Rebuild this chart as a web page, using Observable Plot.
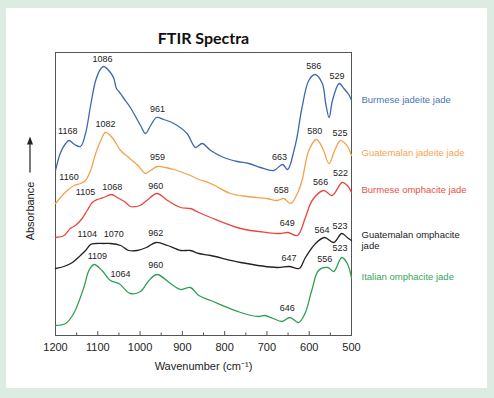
<!DOCTYPE html>
<html><head><meta charset="utf-8">
<script src="https://cdn.jsdelivr.net/npm/d3@7"></script>
<script src="https://cdn.jsdelivr.net/npm/@observablehq/plot@0.6"></script>
<style>
html,body{margin:0;padding:0;background:#dcece2;}
#wrap{position:relative;width:494px;height:398px;overflow:hidden;}
#panel{position:absolute;left:6px;top:8px;width:481px;height:380px;background:#fff;}
#chart{position:absolute;left:0;top:0;}
</style></head><body>
<div id="wrap"><div id="panel"></div><div id="chart"></div></div>
<script>
// ---- data (wavenumber in cm-1, absorbance in arbitrary stacked units) ----
const seriesNames = ["Burmese jadeite jade", "Guatemalan jadeite jade", "Burmese omphacite jade", "Guatemalan omphacite\njade", "Italian omphacite jade"];
const seriesColors = ["#3d68b0", "#f7a04a", "#e8483e", "#222222", "#2f9e55"];
const legendTextColors = ["#4a74bb", "#f5a352", "#ea5048", "#222222", "#37a65f"];
const legendAbs = [235.5, 183, 145.5, 95.5, 59];

const burmeseJadeiteWn  = [1200,1188,1176,1168,1155,1141,1129,1117,1105,1094,1086,1070,1062,1056,1050,1040,1023,999,987,975,961,944,920,889,869,853,833,802,770,743,715,684,663,651,636,629,617,601,586,569,561,553,545,529,518,510,505,500];
const burmeseJadeiteAbs = [165,183,192,195,191,189,202,230,255,266,269,263,257,247,244,238,228,210,202,210,218,216,212,202,188,192,185,178,174,172,168,165,171,166,185,198,228,255,261,252,232,218,235,252,247,243,240,235];

const guatJadeiteWn  = [1200,1188,1172,1156,1141,1129,1117,1105,1093,1082,1066,1046,1027,1005,987,975,959,940,920,881,861,833,786,747,700,676,660,644,628,617,601,583,569,553,540,526,515,508,500];
const guatJadeiteAbs = [132,138,145,150,152,155,165,182,195,203,198,185,178,170,162,165,169,168,166,160,156,152,142,139,137,135,137,132,142,155,185,196,188,172,185,195,192,188,180];

const burmeseOmphWn  = [1200,1180,1165,1153,1137,1125,1113,1101,1086,1068,1054,1034,1023,1000,984,960,935,904,881,861,833,762,700,668,650,628,609,593,566,546,522,510,500];
const burmeseOmphAbs = [98,100,107,110,117,125,133,136,138,141,138,133,129,130,135,142,135,128,127,123,118,107,103,102,103,100,118,135,145,140,153,150,143];

const guatOmphWn  = [1200,1180,1160,1141,1129,1117,1105,1086,1070,1046,1027,1007,985,962,935,904,881,861,833,762,676,647,624,609,585,564,542,523,510,500];
const guatOmphAbs = [67,69,73,80,85,91,92,92,92,90,85,85,88,93,90,85,85,82,80,73,68,69,67,78,92,98,93,102,98,95];

const italianOmphWn  = [1200,1176,1157,1133,1121,1109,1090,1070,1050,1023,999,979,960,928,904,881,861,833,762,720,705,685,664,646,625,610,594,578,556,542,523,510,500];
const italianOmphAbs = [10,12,22,48,65,71,65,55,52,42,44,55,61,52,46,48,40,35,23,19,20,17,14,18,13,22,45,65,68,64,78,72,58];

const peakText = ["1086","1168","961","586","529","663", "1082","1160","959","580","525","658", "1105","1068","960","649","566","522", "1104","1070","962","647","564","523", "1109","1064","960","646","556","523"];
const peakWn   = [1089,1171,959,589,534,670, 1082,1168,959,587,527,666, 1129,1066,963,652,573,526, 1125,1062,963,648,570,527, 1101,1046,963,652,563,527];
const peakAbs  = [276,204,226,269,259,178, 211,158,178,204,202,145, 143,148,149,112,153,162, 101,101,102,77,105,109, 79,61,70,27,76,87];

const xMajorTicks = [1200,1100,1000,900,800,700,600,500];
const xMinorTicks = [1150,1050,950,850,750,650,550];

// ---- build tables ----
const wnArrays = [burmeseJadeiteWn, guatJadeiteWn, burmeseOmphWn, guatOmphWn, italianOmphWn];
const absArrays = [burmeseJadeiteAbs, guatJadeiteAbs, burmeseOmphAbs, guatOmphAbs, italianOmphAbs];
const spectra = wnArrays.flatMap((wn, s) => wn.map((w, i) => ({series: s, wn: w, abs: absArrays[s][i]})));
const peaks = peakText.map((t, i) => ({t, wn: peakWn[i], abs: peakAbs[i]}));
const legend = seriesNames.map((n, i) => ({n, abs: legendAbs[i], c: legendTextColors[i]}));

const font = "'Liberation Sans', Arial, sans-serif";

const plot = Plot.plot({
  width: 494,
  height: 398,
  marginLeft: 55,
  marginRight: 143,
  marginTop: 52,
  marginBottom: 63,
  style: {background: "transparent", fontFamily: font, overflow: "visible"},
  x: {domain: [1200, 500], axis: null},
  y: {domain: [0, 283], axis: null},
  marks: [
    Plot.frame({stroke: "#555", strokeWidth: 1}),
    ...wnArrays.map((_, s) => Plot.line(spectra.filter(d => d.series === s), {
      x: "wn", y: "abs", stroke: seriesColors[s], strokeWidth: 1.3, curve: "catmull-rom"
    })),
    Plot.ruleX(xMajorTicks, {x: d => d, y1: 0, y2: 4, stroke: "#555", strokeWidth: 1}),
    Plot.ruleX(xMinorTicks, {x: d => d, y1: 0, y2: 2.5, stroke: "#555", strokeWidth: 1}),
    Plot.axisX(xMajorTicks, {tickSize: 0, tickPadding: 8, fontSize: 11, fill: "#222", label: null, tickFormat: d => String(d)}),
    Plot.text(peaks, {x: "wn", y: "abs", text: "t", fontSize: 9, fill: "#222", lineAnchor: "middle"}),
    Plot.text(legend, {frameAnchor: "right", y: "abs", text: "n", fill: "c", dx: 10, textAnchor: "start", fontSize: 9.5, lineHeight: 1.1, lineAnchor: "middle"}),
    Plot.text(["FTIR Spectra"], {frameAnchor: "top", dy: -20, fontSize: 16, fontWeight: "bold", fontFamily: "Lato, 'Open Sans', sans-serif", fill: "#111"}),
    Plot.text(["Wavenumber (cm\u207B\u00B9)"], {frameAnchor: "bottom", dy: 34, fontSize: 11, fill: "#222"})
  ]
});
document.getElementById("chart").appendChild(plot);

// y-axis label with arrow above it
const svg = d3.select(plot);
const ax = 55 - 25, yMid = 52 + (335 - 52) / 2;
svg.append("text")
  .attr("transform", `translate(${ax + 4},${yMid + 17.5}) rotate(-90)`)
  .attr("text-anchor", "middle")
  .attr("font-family", font).attr("font-size", 11).attr("fill", "#222")
  .text("Absorbance");
svg.append("line").attr("x1", ax).attr("x2", ax).attr("y1", yMid - 21).attr("y2", yMid - 52)
  .attr("stroke", "#222").attr("stroke-width", 1.2);
svg.append("path").attr("d", `M${ax},${yMid - 57}L${ax - 3},${yMid - 49}L${ax + 3},${yMid - 49}Z`).attr("fill", "#222");
</script>
</body></html>
